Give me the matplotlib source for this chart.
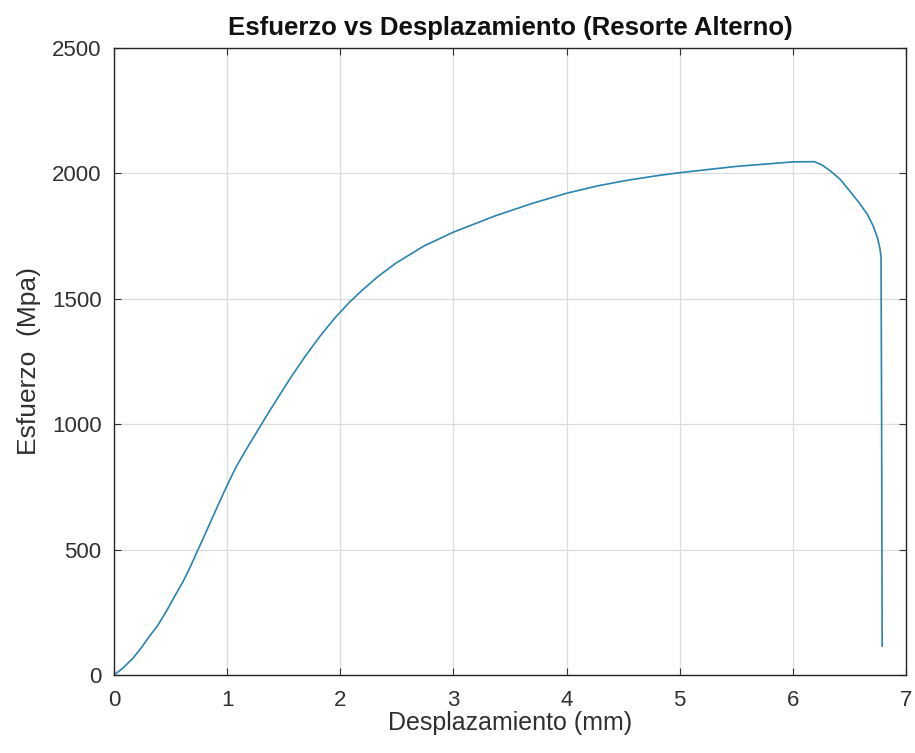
import matplotlib
matplotlib.use('Agg')
import matplotlib.pyplot as plt

# desplazamiento (mm) y esfuerzo (MPa)
desplazamiento = [0, 0.08, 0.17, 0.24, 0.31, 0.39, 0.46, 0.53, 0.61, 0.67, 0.72, 0.80,
                  0.87, 0.94, 1.0, 1.08, 1.17, 1.24, 1.31, 1.38, 1.46, 1.57, 1.69, 1.82,
                  1.96, 2.08, 2.19, 2.33, 2.49, 2.74, 3.0, 3.37, 3.7, 4.0, 4.28, 4.54,
                  4.8, 5.0, 5.5, 6.0, 6.19, 6.26, 6.33, 6.42, 6.51, 6.59, 6.66, 6.71,
                  6.75, 6.77, 6.78, 6.785, 6.79]
esfuerzo = [0, 28, 68, 108, 152, 200, 252, 309, 372, 427, 477, 556,
            627, 697, 756, 830, 900, 952, 1004, 1056, 1113, 1191, 1270, 1350,
            1427, 1485, 1532, 1587, 1641, 1710, 1765, 1830, 1880, 1920, 1950, 1972,
            1990, 2002, 2027, 2045, 2046, 2032, 2010, 1975, 1925, 1880, 1835, 1790,
            1740, 1700, 1665, 1000, 115]

x_ticks = [0, 1, 2, 3, 4, 5, 6, 7]
y_ticks = [0, 500, 1000, 1500, 2000, 2500]

plt.rcParams['font.family'] = ['Liberation Sans', 'DejaVu Sans']

fig = plt.figure(figsize=(9.15, 7.53), dpi=100)
ax = fig.add_axes([0.1246, 0.1036, 0.8655, 0.8330])

ax.plot(desplazamiento, esfuerzo, color='#2a84b0', linewidth=1.2)

ax.set_xlim(0, 7)
ax.set_ylim(0, 2500)
ax.set_xticks(x_ticks)
ax.set_yticks(y_ticks)
ax.grid(True, color='#dcdcdc', linewidth=0.9)
ax.set_axisbelow(True)
ax.tick_params(direction='in', top=True, right=True, length=5, labelsize=16,
               colors='#303030')
ax.tick_params(axis='x', pad=11)
ax.tick_params(axis='y', pad=9)
for s in ax.spines.values():
    s.set_color('#262626')
    s.set_linewidth(1.0)

ax.set_title('Esfuerzo vs Desplazamiento (Resorte Alterno)', fontsize=18.5,
             fontweight='bold', color='#111111', pad=9.5)
ax.set_xlabel('Desplazamiento (mm)', fontsize=18, color='#303030', labelpad=0)
ax.set_ylabel('Esfuerzo  (Mpa)', fontsize=19, color='#303030', labelpad=8)

fig.savefig('out.png', dpi=100)
